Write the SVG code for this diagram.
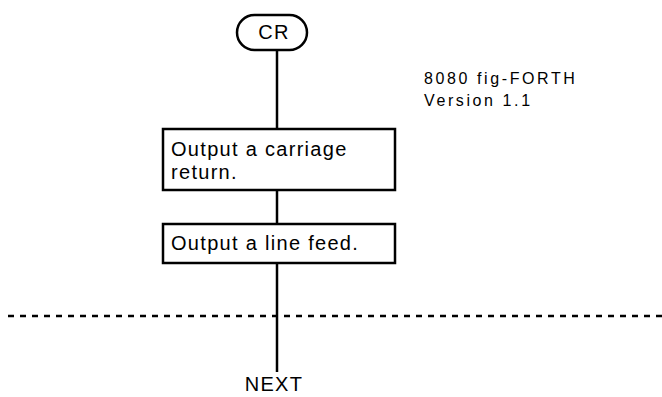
<svg xmlns="http://www.w3.org/2000/svg" width="662" height="397" viewBox="0 0 662 397">
<style>
.box{fill:#fff;stroke:#000;stroke-width:2.5}
.ln{stroke:#000;stroke-width:2.5;fill:none}
.t{font-family:"Liberation Sans",Arial,sans-serif;font-size:20px;fill:#000;letter-spacing:1.3px}
.s{font-family:"Liberation Sans",Arial,sans-serif;font-size:16px;fill:#000;letter-spacing:2.6px}
</style>
<rect width="662" height="397" fill="#fff"/>
<g id="connectors">
<line class="ln" x1="277" y1="50" x2="277" y2="129"/>
<line class="ln" x1="277" y1="190" x2="277" y2="224"/>
<line class="ln" x1="277" y1="263" x2="277" y2="372"/>
<line x1="8" y1="316" x2="662" y2="316" stroke="#000" stroke-width="2.5" stroke-dasharray="6,6"/>
</g>
<g id="cr">
<rect class="box" x="237" y="15" width="70" height="35" rx="17.5" ry="17.5"/>
<text class="t" x="274" y="39" text-anchor="middle">CR</text>
</g>
<g id="box1">
<rect class="box" x="163" y="129" width="232" height="61"/>
<text class="t" x="171" y="156">Output a carriage</text>
<text class="t" x="171" y="179">return.</text>
</g>
<g id="box2">
<rect class="box" x="163" y="224" width="232" height="39"/>
<text class="t" x="171" y="250">Output a line feed.</text>
</g>
<g id="next">
<text class="t" x="274" y="391" text-anchor="middle">NEXT</text>
</g>
<g id="title">
<text class="s" x="424" y="84">8080 fig-FORTH</text>
<text class="s" x="424" y="106">Version 1.1</text>
</g>
</svg>
